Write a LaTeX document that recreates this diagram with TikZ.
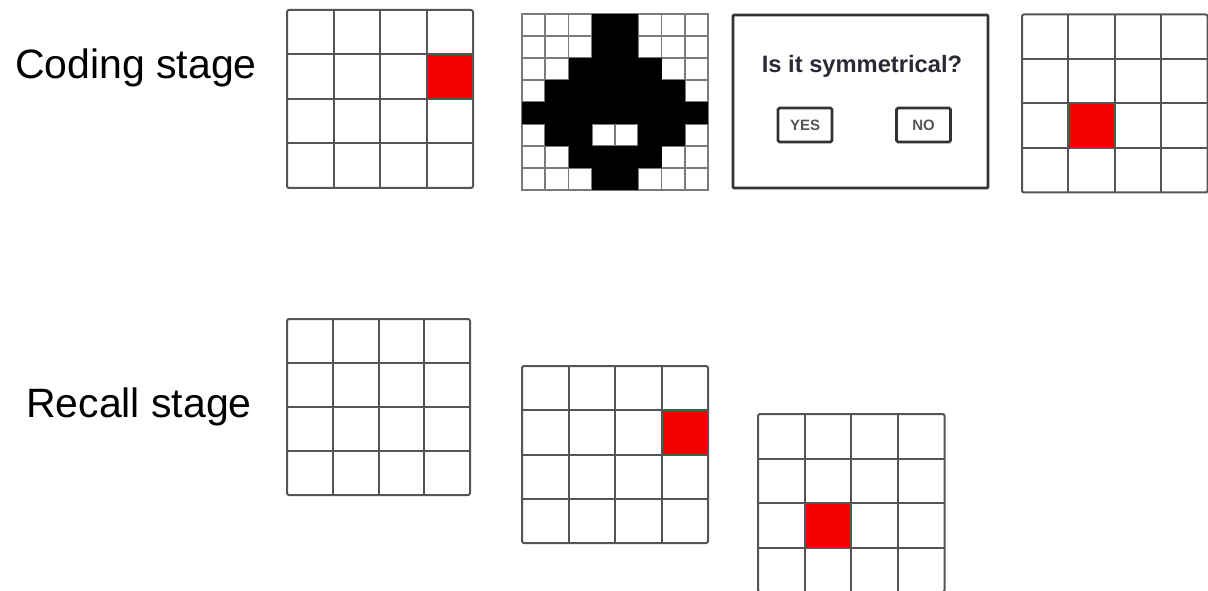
\documentclass[tikz,border=0pt]{standalone}
\usepackage{fontspec}
\setmainfont{Liberation Sans}
\definecolor{gridc}{HTML}{555555}
\definecolor{patc}{HTML}{7A7A7A}
\definecolor{boxc}{HTML}{333333}
\definecolor{qtext}{HTML}{2A2A36}
\definecolor{btntext}{HTML}{555555}
\definecolor{cellred}{HTML}{F50000}
\tikzset{
  gridline/.style={draw=gridc, line width=2pt},
  patline/.style={draw=patc, line width=1.8pt},
  stage/.style={inner sep=0pt, font=\fontsize{41}{41}\selectfont},
  qtxt/.style={inner sep=0pt, text=qtext, font=\bfseries\fontsize{23.7}{24}\selectfont},
  btn/.style={draw=boxc, line width=2.6pt, rounded corners=1.5pt, inner sep=0pt,
    minimum width=54pt, minimum height=34pt, text=btntext, font=\bfseries\fontsize{15}{15}\selectfont},
  dialog/.style={draw=boxc, line width=2.8pt, rounded corners=1pt, inner sep=0pt,
    minimum width=255pt, minimum height=173pt},
}
% x0, y0, x1, y1, red column, red row (-1 for none)
\newcommand\mkgrid[6]{%
  \pgfmathsetmacro\gw{(#3-#1)/4}%
  \pgfmathsetmacro\gh{(#4-#2)/4}%
  \ifnum#5>-1 \fill[cellred] ({#1+#5*\gw},{#2+#6*\gh}) rectangle ++(\gw,\gh);\fi
  \foreach \i in {1,2,3}{%
    \draw[gridline] ({#1+\i*\gw},#2) -- ({#1+\i*\gw},#4);
    \draw[gridline] (#1,{#2+\i*\gh}) -- (#3,{#2+\i*\gh});
  }%
  \draw[gridline, rounded corners=2pt] (#1,#2) rectangle (#3,#4);
}
\begin{document}
\begin{tikzpicture}[x=1pt, y=-1pt]
\useasboundingbox (0,0) rectangle (1208,591);
\clip (0,0) rectangle (1208,591);
\fill[white] (0,0) rectangle (1208,591);

% labels
\node[stage, anchor=base west] (coding) at (15,79) {Coding stage};
\node[stage, anchor=base west] (recall) at (26,417) {Recall stage};

% coding stage grids
\mkgrid{287}{10}{473}{188}{3}{1}
\mkgrid{1022}{14.5}{1207.5}{192.5}{1}{2}

% symmetric pattern (8x8)
\def\px{522}\def\py{14}\def\cw{23.25}\def\ch{22}
\foreach \i in {1,...,7}{%
  \draw[patline] ({\px+\i*\cw},\py) -- ({\px+\i*\cw},{\py+8*\ch});
  \draw[patline] (\px,{\py+\i*\ch}) -- ({\px+8*\cw},{\py+\i*\ch});
}
\draw[patline] (\px,\py) rectangle ({\px+8*\cw},{\py+8*\ch});
\foreach \r/\a/\b in {0/3/5, 1/3/5, 2/2/6, 3/1/7, 4/0/8, 5/1/3, 5/5/7, 6/2/6, 7/3/5}{%
  \fill[black] ({\px+\a*\cw},{\py+\r*\ch}) rectangle ({\px+\b*\cw},{\py+(\r+1)*\ch});
}

% question dialog
\node[dialog] (dlg) at (860.5,101.5) {};
\node[qtxt, anchor=base] (question) at (862,72.5) {Is it symmetrical?};
\node[btn] (yes) at (805,125) {YES};
\node[btn] (no) at (923.5,125) {NO};

% recall stage grids
\mkgrid{287}{319}{470}{495}{-1}{0}
\mkgrid{522}{366}{708}{543}{3}{1}
\mkgrid{758}{414}{944.5}{592}{1}{2}
\end{tikzpicture}
\end{document}
